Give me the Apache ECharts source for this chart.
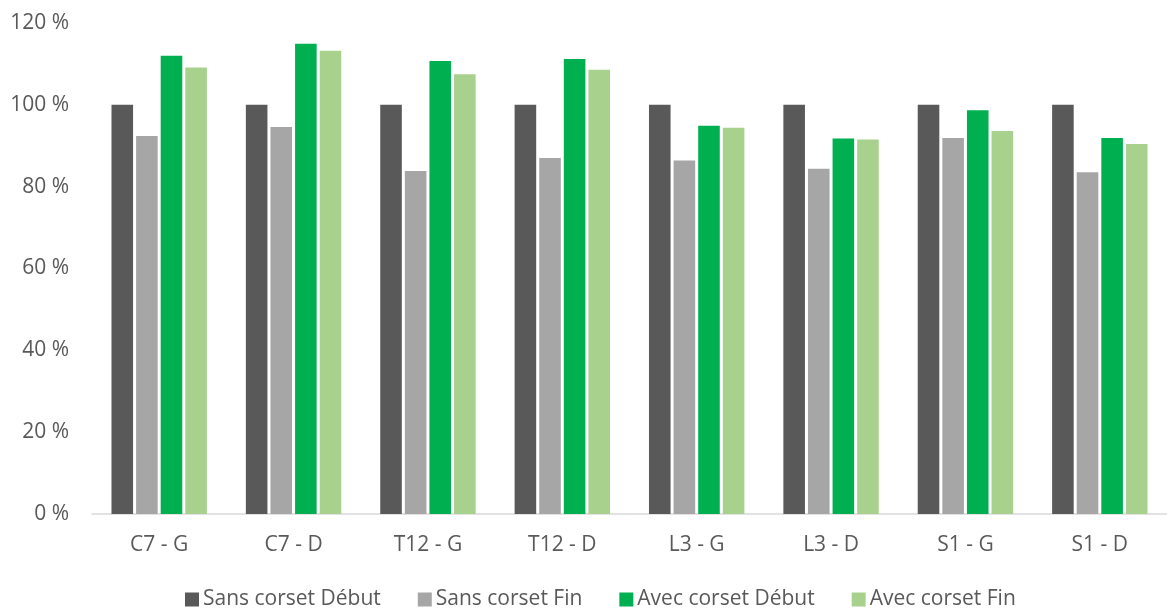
<!DOCTYPE html>
<html>
<head>
<meta charset="utf-8">
<script src="https://cdn.jsdelivr.net/npm/echarts@6/dist/echarts.min.js"></script>
<style>html,body{margin:0;padding:0;background:#fff}#c{width:1167px;height:610px}</style>
</head>
<body>
<div id="c"></div>
<script>
const categories = ['C7 - G', 'C7 - D', 'T12 - G', 'T12 - D', 'L3 - G', 'L3 - D', 'S1 - G', 'S1 - D'];
const seriesNames = ['Sans corset Début', 'Sans corset Fin', 'Avec corset Début', 'Avec corset Fin'];
const sansDebut = [100, 100, 100, 100, 100, 100, 100, 100];
const sansFin = [92.4, 94.6, 83.8, 87.0, 86.4, 84.4, 91.9, 83.5];
const avecDebut = [112.0, 114.9, 110.7, 111.2, 94.9, 91.8, 98.7, 91.9];
const avecFin = [109.1, 113.2, 107.5, 108.6, 94.4, 91.5, 93.6, 90.4];
const colors = ['#595959', '#A6A6A6', '#00B050', '#A9D18E'];
const valuesList = [sansDebut, sansFin, avecDebut, avecFin];

const font = '"Open Sans", sans-serif';
const chart = echarts.init(document.getElementById('c'), null, {renderer: 'canvas'});
chart.setOption({
  animation: false,
  textStyle: {fontFamily: font},
  grid: {left: 92, right: 0, top: 23, bottom: 96, containLabel: false},
  legend: {
    top: 584,
    left: 180,
    itemWidth: 14,
    itemHeight: 14,
    itemGap: 37,
    icon: 'rect',
    textStyle: {color: '#595959', fontSize: 21, fontFamily: font, padding: [0, 0, 0, -1]},
    data: seriesNames
  },
  xAxis: {
    type: 'category',
    data: categories,
    axisLine: {lineStyle: {color: '#D9D9D9', width: 1.5}},
    axisTick: {show: false},
    axisLabel: {color: '#595959', fontSize: 21, fontFamily: font, margin: 21}
  },
  yAxis: {
    type: 'value',
    min: 0,
    max: 120,
    interval: 20,
    axisLine: {show: false},
    axisTick: {show: false},
    splitLine: {show: false},
    axisLabel: {color: '#595959', fontSize: 21, fontFamily: font, margin: 23, formatter: '{value} %'}
  },
  series: seriesNames.map((n, i) => ({
    name: n,
    type: 'bar',
    data: valuesList[i],
    barGap: '14%',
    barCategoryGap: '29%',
    itemStyle: {color: colors[i]}
  }))
});
</script>
</body>
</html>
